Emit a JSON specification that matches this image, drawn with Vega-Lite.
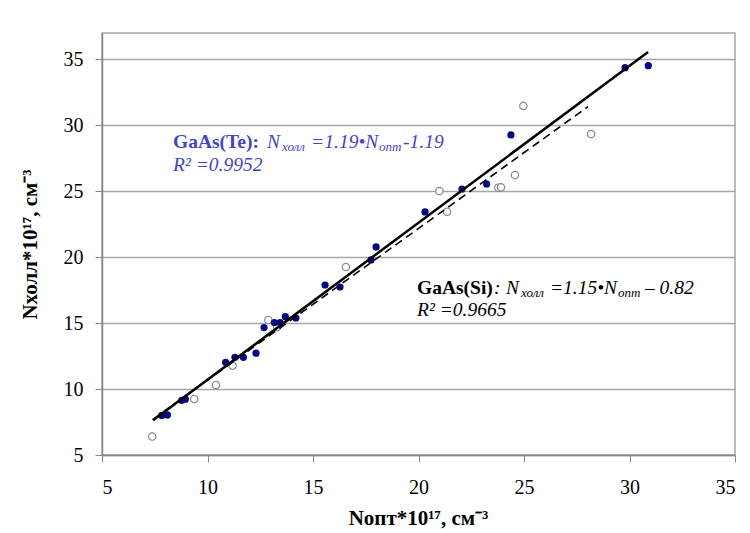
{
  "$schema": "https://vega.github.io/schema/vega-lite/v6.json",
  "width": 633,
  "height": 422,
  "autosize": {"type": "none"},
  "padding": {"left": 102, "top": 33, "right": 15, "bottom": 78},
  "background": "white",
  "config": {
    "font": "Liberation Serif",
    "view": {"stroke": "#a6a6a6", "strokeWidth": 1.5},
    "axis": {"labelFont": "Liberation Serif", "titleFont": "Liberation Serif", "labelColor": "black", "titleColor": "black"}
  },
  "datasets": {
    "points": [
      {"series": "Te", "x": 7.83, "y": 8.0},
      {"series": "Te", "x": 8.10, "y": 8.04},
      {"series": "Te", "x": 8.78, "y": 9.15},
      {"series": "Te", "x": 8.95, "y": 9.23},
      {"series": "Te", "x": 10.86, "y": 12.03},
      {"series": "Te", "x": 11.30, "y": 12.41},
      {"series": "Te", "x": 11.70, "y": 12.41},
      {"series": "Te", "x": 12.30, "y": 12.72},
      {"series": "Te", "x": 12.68, "y": 14.66},
      {"series": "Te", "x": 13.17, "y": 15.04},
      {"series": "Te", "x": 13.44, "y": 15.04},
      {"series": "Te", "x": 13.69, "y": 15.49},
      {"series": "Te", "x": 14.19, "y": 15.39},
      {"series": "Te", "x": 15.57, "y": 17.89},
      {"series": "Te", "x": 16.28, "y": 17.74},
      {"series": "Te", "x": 17.75, "y": 19.79},
      {"series": "Te", "x": 17.99, "y": 20.78},
      {"series": "Te", "x": 20.31, "y": 23.43},
      {"series": "Te", "x": 22.06, "y": 25.17},
      {"series": "Te", "x": 23.23, "y": 25.55},
      {"series": "Te", "x": 24.38, "y": 29.27},
      {"series": "Te", "x": 29.79, "y": 34.37},
      {"series": "Te", "x": 30.89, "y": 34.52},
      {"series": "Si", "x": 7.38, "y": 6.40},
      {"series": "Si", "x": 9.37, "y": 9.25},
      {"series": "Si", "x": 10.40, "y": 10.31},
      {"series": "Si", "x": 11.19, "y": 11.78},
      {"series": "Si", "x": 12.88, "y": 15.24},
      {"series": "Si", "x": 13.30, "y": 14.70},
      {"series": "Si", "x": 16.56, "y": 19.26},
      {"series": "Si", "x": 20.99, "y": 25.02},
      {"series": "Si", "x": 21.35, "y": 23.45},
      {"series": "Si", "x": 23.78, "y": 25.27},
      {"series": "Si", "x": 23.91, "y": 25.30},
      {"series": "Si", "x": 24.57, "y": 26.23},
      {"series": "Si", "x": 24.97, "y": 31.47},
      {"series": "Si", "x": 28.18, "y": 29.34}
    ],
    "fits": [
      {"fit": "Te", "x": 7.42, "y": 7.64},
      {"fit": "Te", "x": 30.88, "y": 35.56},
      {"fit": "Si", "x": 7.40, "y": 7.69},
      {"fit": "Si", "x": 28.03, "y": 31.41}
    ],
    "annBold": [
      {"series": "Te", "x": 8.365, "y": 28.74, "t": "GaAs(Te):"},
      {"series": "Si", "x": 19.93, "y": 17.67, "t": "GaAs(Si)"}
    ],
    "annItalic": [
      {"series": "Te", "x": 12.82, "y": 28.74, "t": "N"},
      {"series": "Te", "x": 14.91, "y": 28.74, "t": "=1.19•N"},
      {"series": "Te", "x": 19.27, "y": 28.74, "t": "-1.19"},
      {"series": "Te", "x": 8.365, "y": 26.99, "t": "R² =0.9952"},
      {"series": "Si", "x": 23.58, "y": 17.67, "t": ":"},
      {"series": "Si", "x": 24.15, "y": 17.67, "t": "N"},
      {"series": "Si", "x": 26.23, "y": 17.67, "t": "=1.15•N"},
      {"series": "Si", "x": 30.73, "y": 17.67, "t": "– 0.82"},
      {"series": "Si", "x": 19.93, "y": 16.0, "t": "R² =0.9665"}
    ],
    "annSub": [
      {"series": "Te", "x": 13.53, "y": 28.74, "t": "холл"},
      {"series": "Te", "x": 18.13, "y": 28.74, "t": "опт"},
      {"series": "Si", "x": 24.86, "y": 17.67, "t": "холл"},
      {"series": "Si", "x": 29.45, "y": 17.67, "t": "опт"}
    ]
  },
  "encoding": {
    "x": {
      "field": "x", "type": "quantitative",
      "scale": {"domain": [5, 35], "nice": false, "zero": false},
      "axis": {
        "values": [5, 10, 15, 20, 25, 30, 35],
        "grid": false,
        "tickSize": 7, "tickColor": "#868686", "domainColor": "#868686", "domainWidth": 1.5,
        "labelFontSize": 20, "labelPadding": 15,
        "title": "Nопт*10¹⁷, см⁻³",
        "titleFontSize": 21, "titleFontWeight": "bold",
        "titleX": 316, "titleY": 63, "titleBaseline": "middle"
      }
    },
    "y": {
      "field": "y", "type": "quantitative",
      "scale": {"domain": [5, 37], "nice": false, "zero": false},
      "axis": {
        "values": [5, 10, 15, 20, 25, 30, 35],
        "grid": true, "gridColor": "#a6a6a6", "gridWidth": 1.5,
        "tickSize": 7, "tickColor": "#868686", "domainColor": "#868686", "domainWidth": 1.5,
        "labelFontSize": 20, "labelPadding": 12,
        "title": "Nхолл*10¹⁷, см⁻³",
        "titleFontSize": 21, "titleFontWeight": "bold",
        "titleAngle": 270, "titleX": -72, "titleY": 211,
        "titleAlign": "center", "titleBaseline": "middle"
      }
    }
  },
  "layer": [
    {
      "data": {"name": "points"},
      "transform": [{"filter": "datum.series === 'Si'"}],
      "mark": {"type": "point", "shape": "circle", "filled": false, "fill": "white", "stroke": "#8a8a8a", "strokeWidth": 1.2, "size": 55, "opacity": 1}
    },
    {
      "data": {"name": "points"},
      "transform": [{"filter": "datum.series === 'Te'"}],
      "mark": {"type": "circle", "color": "#06067f", "size": 52, "opacity": 1}
    },
    {
      "data": {"name": "fits"},
      "transform": [{"filter": "datum.fit === 'Si'"}],
      "mark": {"type": "line", "color": "black", "strokeWidth": 1.6, "strokeDash": [8, 5]}
    },
    {
      "data": {"name": "fits"},
      "transform": [{"filter": "datum.fit === 'Te'"}],
      "mark": {"type": "line", "color": "black", "strokeWidth": 2.5}
    },
    {
      "data": {"name": "annBold"},
      "mark": {"type": "text", "align": "left", "baseline": "middle", "font": "Liberation Serif", "fontSize": 19.5, "fontWeight": "bold"},
      "encoding": {
        "text": {"field": "t"},
        "color": {"field": "series", "type": "nominal", "scale": {"domain": ["Te", "Si"], "range": ["#4444c4", "#000000"]}, "legend": null}
      }
    },
    {
      "data": {"name": "annItalic"},
      "mark": {"type": "text", "align": "left", "baseline": "middle", "font": "Liberation Serif", "fontSize": 19.5, "fontStyle": "italic"},
      "encoding": {
        "text": {"field": "t"},
        "color": {"field": "series", "type": "nominal", "scale": {"domain": ["Te", "Si"], "range": ["#4444c4", "#000000"]}, "legend": null}
      }
    },
    {
      "data": {"name": "annSub"},
      "mark": {"type": "text", "align": "left", "baseline": "middle", "font": "Liberation Serif", "fontSize": 13, "fontStyle": "italic", "dy": 5},
      "encoding": {
        "text": {"field": "t"},
        "color": {"field": "series", "type": "nominal", "scale": {"domain": ["Te", "Si"], "range": ["#4444c4", "#000000"]}, "legend": null}
      }
    }
  ]
}
